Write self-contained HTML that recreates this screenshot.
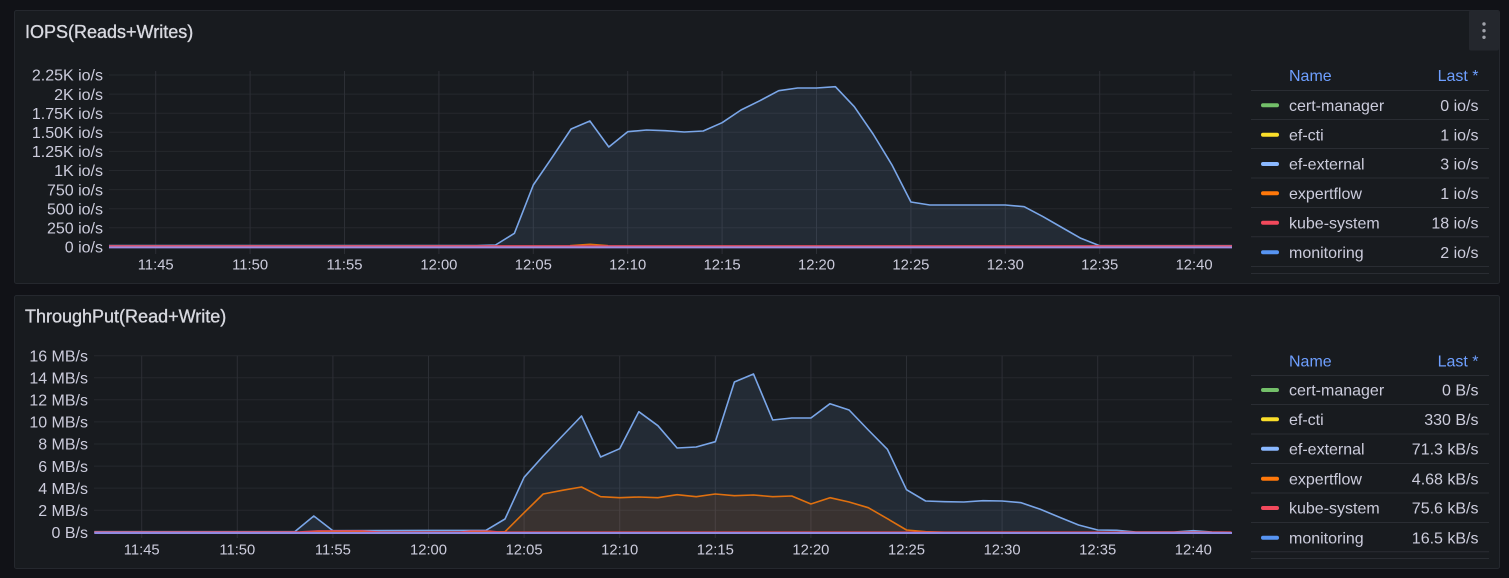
<!DOCTYPE html>
<html><head><meta charset="utf-8"><style>
html,body{margin:0;padding:0;background:#111217;}
svg{display:block;}
text{font-family:"Liberation Sans",Arial,sans-serif;}
</style></head><body>
<svg width="1509" height="578" viewBox="0 0 1509 578" xmlns="http://www.w3.org/2000/svg">
<rect x="0" y="0" width="1509" height="578" fill="#111217"/>
<!-- ============ TOP PANEL ============ -->
<rect x="14.5" y="10.5" width="1485" height="273" rx="2" fill="#181b1f" stroke="#25282e"/>
<text x="25" y="38" font-size="18" fill="#d8d9e0" stroke="#d8d9e0" stroke-width="0.35">IOPS(Reads+Writes)</text>
<rect x="1469" y="10.5" width="30" height="40" rx="2" fill="#24272d"/>
<circle cx="1484" cy="24" r="1.7" fill="#a0a2aa"/><circle cx="1484" cy="30.7" r="1.7" fill="#a0a2aa"/><circle cx="1484" cy="37.3" r="1.7" fill="#a0a2aa"/>
<g stroke="#25282d" stroke-width="1">
<line x1="109" y1="75" x2="1232" y2="75"/><line x1="109" y1="94.1" x2="1232" y2="94.1"/><line x1="109" y1="113.2" x2="1232" y2="113.2"/><line x1="109" y1="132.3" x2="1232" y2="132.3"/><line x1="109" y1="151.4" x2="1232" y2="151.4"/><line x1="109" y1="170.5" x2="1232" y2="170.5"/><line x1="109" y1="189.6" x2="1232" y2="189.6"/><line x1="109" y1="208.7" x2="1232" y2="208.7"/><line x1="109" y1="227.8" x2="1232" y2="227.8"/><line x1="109" y1="247" x2="1232" y2="247"/>
</g>
<g stroke="#2c2f35" stroke-width="1">
<line x1="155.7" y1="71" x2="155.7" y2="254"/><line x1="250.1" y1="71" x2="250.1" y2="254"/><line x1="344.5" y1="71" x2="344.5" y2="254"/><line x1="438.9" y1="71" x2="438.9" y2="254"/><line x1="533.3" y1="71" x2="533.3" y2="254"/><line x1="627.7" y1="71" x2="627.7" y2="254"/><line x1="722.1" y1="71" x2="722.1" y2="254"/><line x1="816.5" y1="71" x2="816.5" y2="254"/><line x1="910.9" y1="71" x2="910.9" y2="254"/><line x1="1005.3" y1="71" x2="1005.3" y2="254"/><line x1="1099.7" y1="71" x2="1099.7" y2="254"/><line x1="1194.1" y1="71" x2="1194.1" y2="254"/>
</g>
<g font-size="16" fill="#ccccdc" text-anchor="end">
<text x="103" y="80.7">2.25K io/s</text><text x="103" y="99.8">2K io/s</text><text x="103" y="118.9">1.75K io/s</text><text x="103" y="138">1.50K io/s</text><text x="103" y="157.1">1.25K io/s</text><text x="103" y="176.2">1K io/s</text><text x="103" y="195.3">750 io/s</text><text x="103" y="214.4">500 io/s</text><text x="103" y="233.5">250 io/s</text><text x="103" y="252.7">0 io/s</text>
</g>
<g font-size="14.8" fill="#ccccdc" text-anchor="middle">
<text x="155.7" y="269.3">11:45</text><text x="250.1" y="269.3">11:50</text><text x="344.5" y="269.3">11:55</text><text x="438.9" y="269.3">12:00</text><text x="533.3" y="269.3">12:05</text><text x="627.7" y="269.3">12:10</text><text x="722.1" y="269.3">12:15</text><text x="816.5" y="269.3">12:20</text><text x="910.9" y="269.3">12:25</text><text x="1005.3" y="269.3">12:30</text><text x="1099.7" y="269.3">12:35</text><text x="1194.1" y="269.3">12:40</text>
</g>
<polygon fill="rgba(138,184,255,0.1)" points="109,247 109,245.5 476.7,245.5 495.5,245 514.4,233.3 533.3,185 552.2,157.3 571.1,129 589.9,121 608.8,147 627.7,131.7 646.6,130 665.5,130.7 684.3,132 703.2,131 722.1,122.7 741,110 759.9,100.7 778.7,90.7 797.6,88 816.5,88 835.4,86.7 854.3,106.7 873.1,134 892,165 910.9,202 929.8,205 1005.3,205 1024.2,206.7 1043.1,216.7 1061.9,227.5 1080.8,238.3 1099.7,245.7 1232,245.7 1232,247"/>
<polyline fill="none" stroke="#7aa6e8" stroke-width="1.6" stroke-linejoin="round" points="109,245.5 476.7,245.5 495.5,245 514.4,233.3 533.3,185 552.2,157.3 571.1,129 589.9,121 608.8,147 627.7,131.7 646.6,130 665.5,130.7 684.3,132 703.2,131 722.1,122.7 741,110 759.9,100.7 778.7,90.7 797.6,88 816.5,88 835.4,86.7 854.3,106.7 873.1,134 892,165 910.9,202 929.8,205 1005.3,205 1024.2,206.7 1043.1,216.7 1061.9,227.5 1080.8,238.3 1099.7,245.7 1232,245.7"/>
<polyline fill="none" stroke="#e0700f" stroke-width="1.5" points="570,245.6 590,244.2 608,245.6"/>
<line x1="109" y1="245.8" x2="1232" y2="245.8" stroke="#e0485e" stroke-width="1.4"/>
<line x1="109" y1="247.4" x2="1232" y2="247.4" stroke="#9d8ade" stroke-width="2"/>
<!-- top legend -->
<text x="1289" y="81" font-size="16" fill="#6e9fff">Name</text>
<text x="1478.5" y="81" font-size="16" fill="#6e9fff" text-anchor="end">Last *</text>
<g stroke="#2a2d33" stroke-width="1">
<line x1="1251" y1="90.5" x2="1489" y2="90.5"/><line x1="1251" y1="119.5" x2="1489" y2="119.5"/><line x1="1251" y1="148.5" x2="1489" y2="148.5"/><line x1="1251" y1="178" x2="1489" y2="178"/><line x1="1251" y1="207.5" x2="1489" y2="207.5"/><line x1="1251" y1="236.8" x2="1489" y2="236.8"/><line x1="1251" y1="266.5" x2="1489" y2="266.5"/><line x1="1251" y1="273.5" x2="1489" y2="273.5"/>
</g>
<g>
<rect x="1261" y="103.3" width="18" height="4" rx="2" fill="#73bf69"/>
<rect x="1261" y="132.7" width="18" height="4" rx="2" fill="#fade2a"/>
<rect x="1261" y="162" width="18" height="4" rx="2" fill="#8ab8ff"/>
<rect x="1261" y="191.3" width="18" height="4" rx="2" fill="#ff780a"/>
<rect x="1261" y="220.7" width="18" height="4" rx="2" fill="#f2495c"/>
<rect x="1261" y="250.3" width="18" height="4" rx="2" fill="#5794f2"/>
</g>
<g font-size="16" fill="#ccccdc">
<text x="1289" y="111">cert-manager</text><text x="1289" y="140.4">ef-cti</text><text x="1289" y="169.7">ef-external</text><text x="1289" y="199">expertflow</text><text x="1289" y="228.4">kube-system</text><text x="1289" y="258">monitoring</text>
</g>
<g font-size="16" fill="#ccccdc" text-anchor="end">
<text x="1478.5" y="111">0 io/s</text><text x="1478.5" y="140.4">1 io/s</text><text x="1478.5" y="169.7">3 io/s</text><text x="1478.5" y="199">1 io/s</text><text x="1478.5" y="228.4">18 io/s</text><text x="1478.5" y="258">2 io/s</text>
</g>

<!-- ============ BOTTOM PANEL ============ -->
<rect x="14.5" y="295.5" width="1485" height="273" rx="2" fill="#181b1f" stroke="#25282e"/>
<text x="25" y="322.3" font-size="18" fill="#d8d9e0" stroke="#d8d9e0" stroke-width="0.35">ThroughPut(Read+Write)</text>
<g stroke="#25282d" stroke-width="1">
<line x1="94" y1="355.7" x2="1232" y2="355.7"/><line x1="94" y1="377.8" x2="1232" y2="377.8"/><line x1="94" y1="399.8" x2="1232" y2="399.8"/><line x1="94" y1="421.9" x2="1232" y2="421.9"/><line x1="94" y1="444" x2="1232" y2="444"/><line x1="94" y1="466.1" x2="1232" y2="466.1"/><line x1="94" y1="488.1" x2="1232" y2="488.1"/><line x1="94" y1="510.2" x2="1232" y2="510.2"/><line x1="94" y1="532.3" x2="1232" y2="532.3"/>
</g>
<g stroke="#2c2f35" stroke-width="1">
<line x1="141.7" y1="355.7" x2="141.7" y2="538"/><line x1="237.3" y1="355.7" x2="237.3" y2="538"/><line x1="332.9" y1="355.7" x2="332.9" y2="538"/><line x1="428.5" y1="355.7" x2="428.5" y2="538"/><line x1="524.1" y1="355.7" x2="524.1" y2="538"/><line x1="619.7" y1="355.7" x2="619.7" y2="538"/><line x1="715.3" y1="355.7" x2="715.3" y2="538"/><line x1="810.9" y1="355.7" x2="810.9" y2="538"/><line x1="906.5" y1="355.7" x2="906.5" y2="538"/><line x1="1002.1" y1="355.7" x2="1002.1" y2="538"/><line x1="1097.7" y1="355.7" x2="1097.7" y2="538"/><line x1="1193.3" y1="355.7" x2="1193.3" y2="538"/>
</g>
<g font-size="16" fill="#ccccdc" text-anchor="end">
<text x="88" y="361.4">16 MB/s</text><text x="88" y="383.5">14 MB/s</text><text x="88" y="405.5">12 MB/s</text><text x="88" y="427.6">10 MB/s</text><text x="88" y="449.7">8 MB/s</text><text x="88" y="471.8">6 MB/s</text><text x="88" y="493.8">4 MB/s</text><text x="88" y="515.9">2 MB/s</text><text x="88" y="538">0 B/s</text>
</g>
<g font-size="14.8" fill="#ccccdc" text-anchor="middle">
<text x="141.7" y="554.3">11:45</text><text x="237.3" y="554.3">11:50</text><text x="332.9" y="554.3">11:55</text><text x="428.5" y="554.3">12:00</text><text x="524.1" y="554.3">12:05</text><text x="619.7" y="554.3">12:10</text><text x="715.3" y="554.3">12:15</text><text x="810.9" y="554.3">12:20</text><text x="906.5" y="554.3">12:25</text><text x="1002.1" y="554.3">12:30</text><text x="1097.7" y="554.3">12:35</text><text x="1193.3" y="554.3">12:40</text>
</g>
<polygon fill="rgba(138,184,255,0.1)" points="94.3,532.3 94.3,531.7 294.7,531.7 313.8,516 332.9,530.7 486,530.3 505,519 524.1,477.3 543.2,456 562.3,436 581.5,416 600.6,457 619.7,448.7 638.8,411.7 657.9,425.7 677.1,448 696.2,447 715.3,441.7 734.4,382 753.5,374 772.7,420 791.8,418 810.9,418 830,403.7 849.1,410 868.3,430 887.4,449.3 906.5,489.7 925.6,501 944.7,501.7 963.9,502 983,500.7 1002.1,501 1021.2,502.7 1040.3,509.3 1059.5,517.3 1078.6,525 1097.7,530 1116.8,530.3 1135.9,532 1174,532 1193.3,530.7 1212,532 1231.5,532.3"/>
<polygon fill="rgba(255,120,10,0.1)" points="486,532.3 505,531.7 524.1,512.7 543.2,494 562.3,490.3 581.5,487 600.6,496.7 619.7,497.7 638.8,497 657.9,497.7 677.1,494.7 696.2,496.7 715.3,494 734.4,495.7 753.5,495 772.7,496.7 791.8,496 810.9,504 830,497.7 849.1,502 868.3,507.7 887.4,518.7 906.5,530 925.6,531.7 944.7,532.3"/>
<polyline fill="none" stroke="#7aa6e8" stroke-width="1.6" stroke-linejoin="round" points="94.3,531.7 294.7,531.7 313.8,516 332.9,530.7 486,530.3 505,519 524.1,477.3 543.2,456 562.3,436 581.5,416 600.6,457 619.7,448.7 638.8,411.7 657.9,425.7 677.1,448 696.2,447 715.3,441.7 734.4,382 753.5,374 772.7,420 791.8,418 810.9,418 830,403.7 849.1,410 868.3,430 887.4,449.3 906.5,489.7 925.6,501 944.7,501.7 963.9,502 983,500.7 1002.1,501 1021.2,502.7 1040.3,509.3 1059.5,517.3 1078.6,525 1097.7,530 1116.8,530.3 1135.9,532 1174,532 1193.3,530.7 1212,532 1231.5,532.3"/>
<polyline fill="none" stroke="#e0700f" stroke-width="1.6" stroke-linejoin="round" points="94.3,532.3 486,532.3 505,531.7 524.1,512.7 543.2,494 562.3,490.3 581.5,487 600.6,496.7 619.7,497.7 638.8,497 657.9,497.7 677.1,494.7 696.2,496.7 715.3,494 734.4,495.7 753.5,495 772.7,496.7 791.8,496 810.9,504 830,497.7 849.1,502 868.3,507.7 887.4,518.7 906.5,530 925.6,531.7 944.7,532.3 1231.5,532.3"/>
<polyline fill="none" stroke="#e0485e" stroke-width="1.3" points="94.3,532 300,531.8 318,530.8 362,530.8 380,532 460,532 470,531 490,531 500,532 1231.5,532"/>
<line x1="94.3" y1="533" x2="1232" y2="533" stroke="#9188e0" stroke-width="2"/>
<!-- bottom legend -->
<text x="1289" y="366.5" font-size="16" fill="#6e9fff">Name</text>
<text x="1478.5" y="366.5" font-size="16" fill="#6e9fff" text-anchor="end">Last *</text>
<g stroke="#2a2d33" stroke-width="1">
<line x1="1251" y1="375.5" x2="1489" y2="375.5"/><line x1="1251" y1="404.5" x2="1489" y2="404.5"/><line x1="1251" y1="434" x2="1489" y2="434"/><line x1="1251" y1="463.5" x2="1489" y2="463.5"/><line x1="1251" y1="493" x2="1489" y2="493"/><line x1="1251" y1="522.5" x2="1489" y2="522.5"/><line x1="1251" y1="551.7" x2="1489" y2="551.7"/><line x1="1251" y1="558.5" x2="1489" y2="558.5"/>
</g>
<g>
<rect x="1261" y="388" width="18" height="4" rx="2" fill="#73bf69"/>
<rect x="1261" y="417.3" width="18" height="4" rx="2" fill="#fade2a"/>
<rect x="1261" y="446.7" width="18" height="4" rx="2" fill="#8ab8ff"/>
<rect x="1261" y="476.7" width="18" height="4" rx="2" fill="#ff780a"/>
<rect x="1261" y="506" width="18" height="4" rx="2" fill="#f2495c"/>
<rect x="1261" y="535.7" width="18" height="4" rx="2" fill="#5794f2"/>
</g>
<g font-size="16" fill="#ccccdc">
<text x="1289" y="395.7">cert-manager</text><text x="1289" y="425">ef-cti</text><text x="1289" y="454.4">ef-external</text><text x="1289" y="484.4">expertflow</text><text x="1289" y="513.7">kube-system</text><text x="1289" y="543.4">monitoring</text>
</g>
<g font-size="16" fill="#ccccdc" text-anchor="end">
<text x="1478.5" y="395.7">0 B/s</text><text x="1478.5" y="425">330 B/s</text><text x="1478.5" y="454.4">71.3 kB/s</text><text x="1478.5" y="484.4">4.68 kB/s</text><text x="1478.5" y="513.7">75.6 kB/s</text><text x="1478.5" y="543.4">16.5 kB/s</text>
</g>
</svg>
</body></html>
